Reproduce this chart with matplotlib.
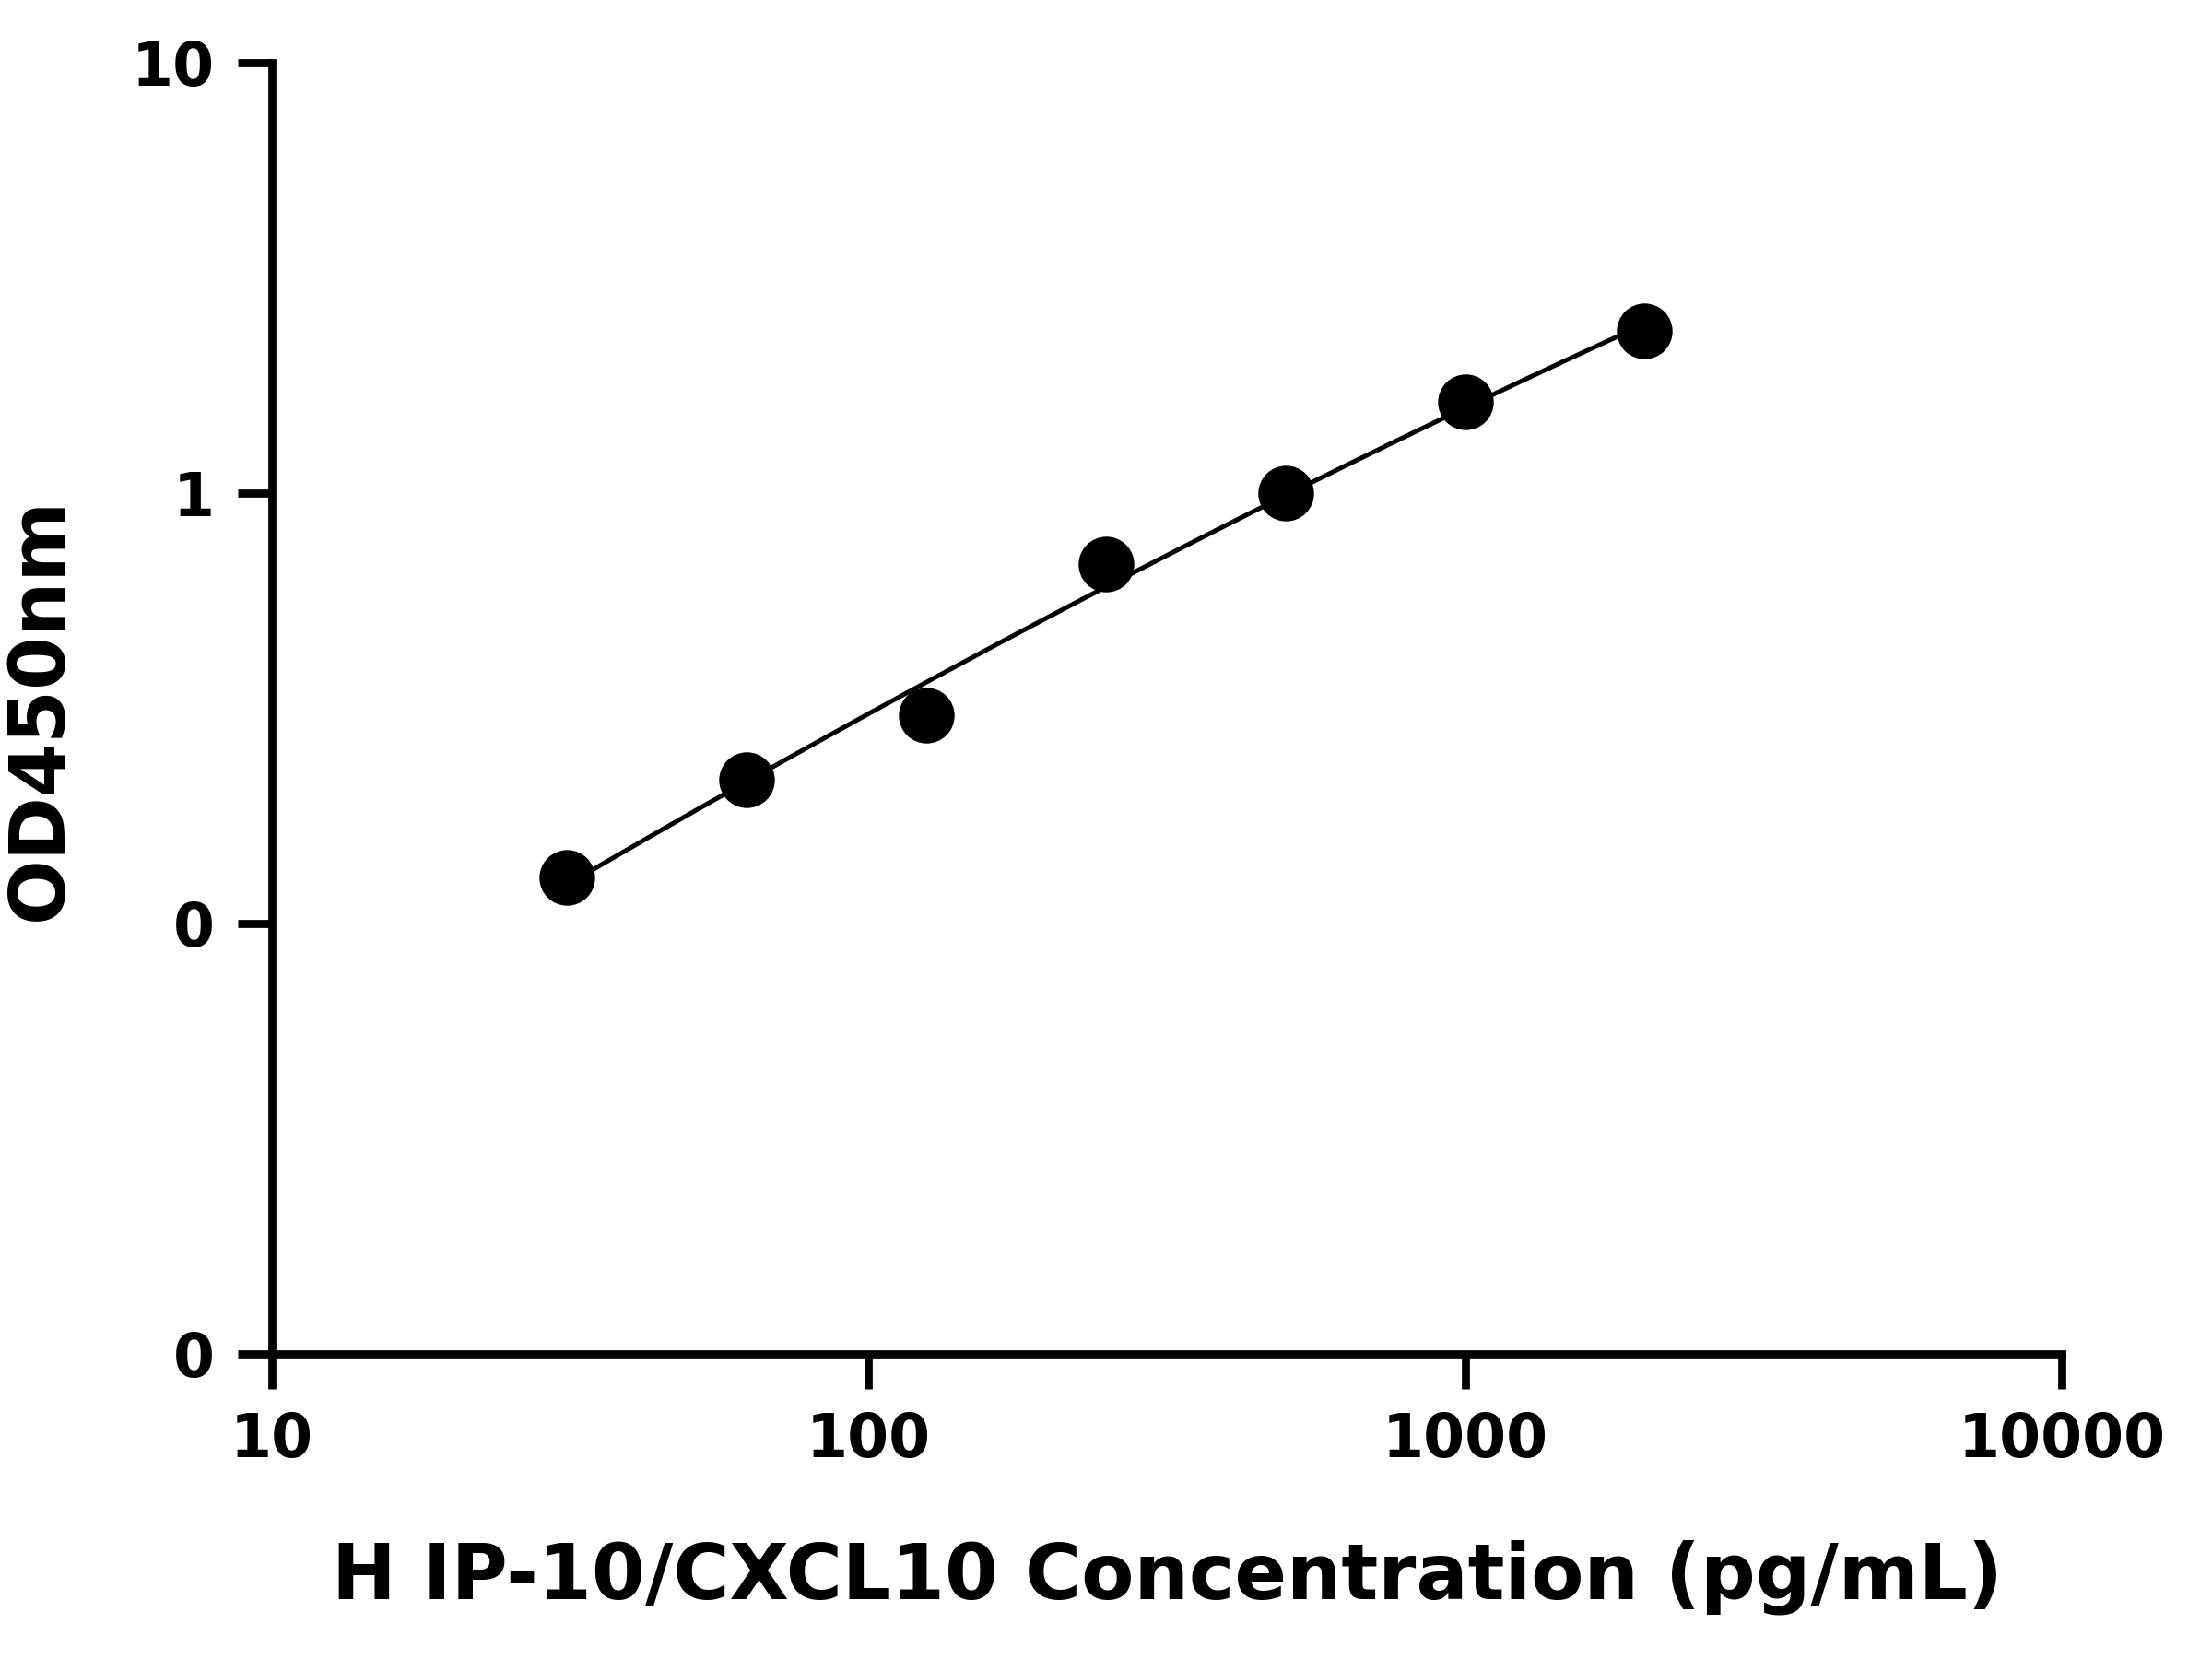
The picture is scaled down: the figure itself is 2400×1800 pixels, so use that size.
import numpy as np
import matplotlib
matplotlib.use("Agg")
import matplotlib.pyplot as plt
from matplotlib.ticker import FixedLocator, FixedFormatter, NullLocator

conc = [31.25, 62.5, 125, 250, 500, 1000, 2000]
od = [0.128, 0.216, 0.305, 0.686, 1.0, 1.63, 2.38]
yticks = [0.01, 0.1, 1, 10]
ytick_labels = ["0", "0", "1", "10"]
xticks = [10, 100, 1000, 10000]
xtick_labels = ["10", "100", "1000", "10000"]

fig = plt.figure(figsize=(16, 12), dpi=150)
ax = fig.add_axes([0.123, 0.184, 0.809, 0.778])
lx, ly = np.log10(conc), np.log10(od)
c = np.polyfit(lx, ly, 2)
xs = np.linspace(lx[0], lx[-1], 200)
ax.plot(10**xs, 10**np.polyval(c, xs), color="black", lw=2.4)
ax.plot(conc, od, "o", color="black", ms=28)
ax.set_xscale("log"); ax.set_yscale("log")
ax.set_xlim(10, 10000); ax.set_ylim(0.01, 10)
ax.xaxis.set_major_locator(FixedLocator(xticks)); ax.xaxis.set_major_formatter(FixedFormatter(xtick_labels))
ax.yaxis.set_major_locator(FixedLocator(yticks)); ax.yaxis.set_major_formatter(FixedFormatter(ytick_labels))
ax.xaxis.set_minor_locator(NullLocator()); ax.yaxis.set_minor_locator(NullLocator())
for s in ["top", "right"]:
    ax.spines[s].set_visible(False)
for s in ["left", "bottom"]:
    ax.spines[s].set_linewidth(4.2)
ax.tick_params(width=4.2, length=18, labelsize=31, pad=12)
for t in ax.get_xticklabels() + ax.get_yticklabels():
    t.set_fontweight("bold")
ax.set_xlabel("H IP-10/CXCL10 Concentration (pg/mL)", fontsize=40, fontweight="bold", labelpad=36)
ax.set_ylabel("OD450nm", fontsize=40, fontweight="bold", labelpad=28)
fig.savefig("out.png", dpi=150)
